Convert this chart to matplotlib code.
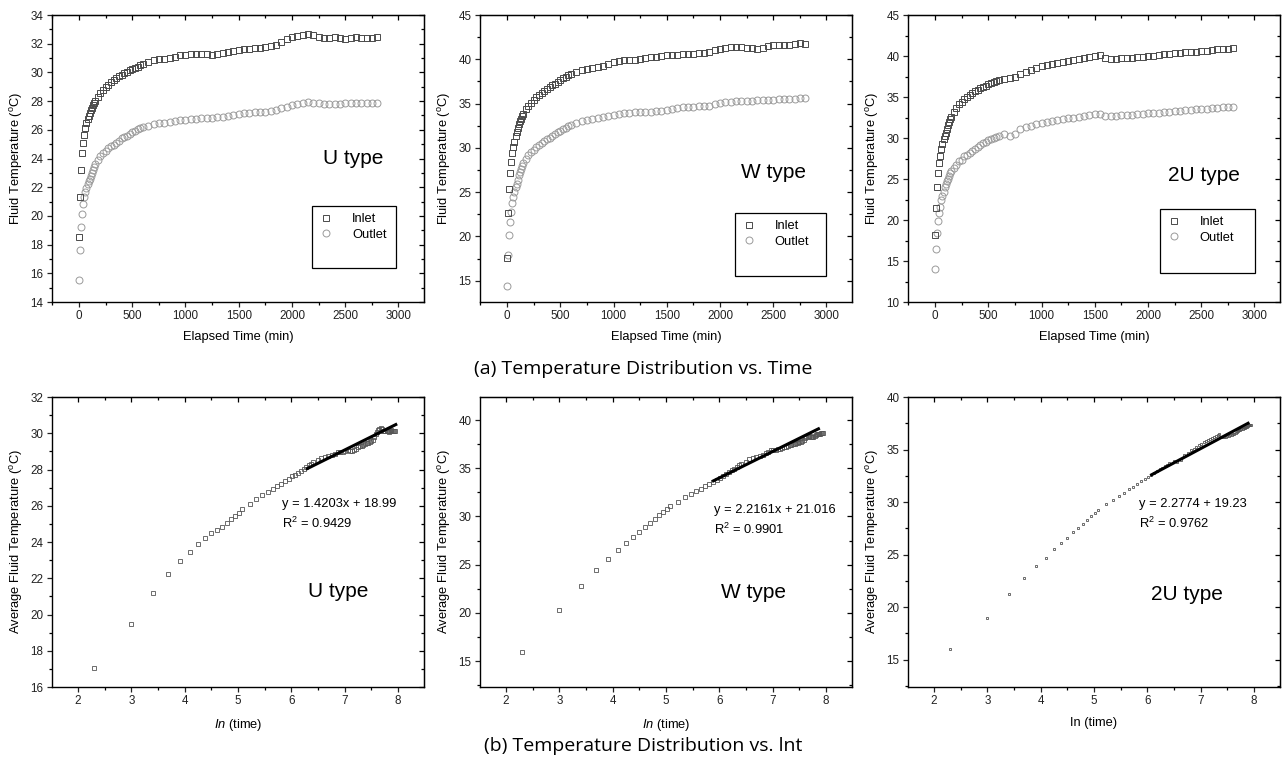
import numpy as np
import matplotlib
matplotlib.use('Agg')
import matplotlib.pyplot as plt
from matplotlib.ticker import MultipleLocator
from matplotlib.patches import Rectangle

plt.rcParams['font.family'] = ['Liberation Sans', 'DejaVu Sans']
plt.rcParams['mathtext.fontset'] = 'custom'
plt.rcParams['mathtext.rm'] = 'Liberation Sans'
plt.rcParams['mathtext.it'] = 'Liberation Sans:italic'

# elapsed time of the records (min)
time_min = [0, 10, 20, 30, 40, 50, 60, 70, 80, 90, 100, 110, 120, 130, 140, 150,
            175, 200, 225, 250, 275, 300, 325, 350, 375, 400, 425, 450, 475, 500,
            525, 550, 575, 600,
            650, 700, 750, 800, 850, 900, 950, 1000, 1050, 1100, 1150, 1200, 1250,
            1300, 1350, 1400, 1450, 1500, 1550, 1600, 1650, 1700, 1750, 1800, 1850,
            1900, 1950, 2000, 2050, 2100, 2150, 2200, 2250, 2300, 2350, 2400, 2450,
            2500, 2550, 2600, 2650, 2700, 2750, 2800]

u_inlet = [18.5, 21.3, 23.2, 24.4, 25.1, 25.65, 26.1, 26.45, 26.75, 26.95, 27.15, 27.35,
           27.55, 27.7, 27.85, 28.0,
           28.3, 28.55, 28.8, 28.95, 29.15, 29.3, 29.45, 29.6, 29.75, 29.85, 29.95, 30.05,
           30.15, 30.25, 30.3, 30.4, 30.5, 30.6,
           30.75, 30.9, 30.95, 30.95, 31.0, 31.1, 31.2, 31.2, 31.25, 31.3, 31.3, 31.25,
           31.2, 31.25, 31.35, 31.45, 31.5, 31.55, 31.6, 31.65, 31.7, 31.72, 31.78, 31.82,
           31.9, 32.1, 32.3, 32.45, 32.55, 32.62, 32.67, 32.62, 32.45, 32.4, 32.42, 32.45,
           32.38, 32.3, 32.4, 32.45, 32.42, 32.38, 32.4, 32.45]
u_outlet = [15.55, 17.65, 19.2, 20.1, 20.85, 21.3, 21.7, 21.95, 22.2, 22.4, 22.55, 22.75,
            23.0, 23.2, 23.4, 23.6,
            23.9, 24.2, 24.4, 24.55, 24.7, 24.85, 24.95, 25.1, 25.25, 25.4, 25.5, 25.6,
            25.7, 25.85, 25.95, 26.05, 26.15, 26.2,
            26.3, 26.4, 26.45, 26.5, 26.55, 26.6, 26.68, 26.7, 26.72, 26.75, 26.8, 26.8,
            26.82, 26.88, 26.92, 26.98, 27.05, 27.1, 27.15, 27.18, 27.22, 27.22, 27.25, 27.3,
            27.35, 27.5, 27.62, 27.72, 27.8, 27.85, 27.92, 27.9, 27.85, 27.82, 27.8, 27.8,
            27.82, 27.88, 27.9, 27.88, 27.85, 27.85, 27.85, 27.85]

w_inlet = [17.55, 22.6, 25.36, 27.2, 28.44, 29.38, 30.05, 30.7, 31.3, 31.8, 32.2, 32.65,
           33.0, 33.3, 33.6, 33.85,
           34.35, 34.75, 35.1, 35.4, 35.7, 35.95, 36.2, 36.45, 36.65, 36.85, 37.05, 37.25,
           37.45, 37.65, 37.85, 38.05, 38.2, 38.35,
           38.6, 38.8, 38.95, 39.05, 39.15, 39.3, 39.45, 39.65, 39.85, 39.9, 39.92, 39.95,
           40.05, 40.15, 40.25, 40.3, 40.35, 40.45, 40.5, 40.5, 40.55, 40.6, 40.65, 40.7,
           40.75, 40.85, 41.0, 41.15, 41.25, 41.35, 41.4, 41.35, 41.3, 41.25, 41.2, 41.3,
           41.45, 41.58, 41.6, 41.6, 41.62, 41.7, 41.82, 41.7]
w_outlet = [14.36, 17.9, 20.18, 21.6, 22.8, 23.75, 24.5, 25.05, 25.55, 25.95, 26.38, 26.9,
            27.3, 27.65, 28.0, 28.3,
            28.75, 29.2, 29.5, 29.8, 30.1, 30.35, 30.55, 30.75, 30.95, 31.15, 31.35, 31.6,
            31.8, 31.95, 32.1, 32.3, 32.45, 32.55,
            32.8, 33.05, 33.2, 33.3, 33.35, 33.5, 33.65, 33.75, 33.85, 33.9, 33.95, 34.0,
            34.02, 34.05, 34.1, 34.15, 34.22, 34.32, 34.4, 34.5, 34.58, 34.62, 34.65, 34.7,
            34.72, 34.78, 34.9, 35.05, 35.18, 35.22, 35.28, 35.3, 35.3, 35.32, 35.35, 35.38,
            35.4, 35.45, 35.48, 35.5, 35.52, 35.55, 35.58, 35.62]

uu_inlet = [18.13, 21.5, 24.07, 25.7, 26.9, 27.8, 28.62, 29.3, 29.84, 30.3, 30.65, 31.05,
            31.55, 31.95, 32.3, 32.6,
            33.2, 33.7, 34.1, 34.45, 34.8, 35.0, 35.25, 35.5, 35.7, 35.9, 36.1, 36.25,
            36.4, 36.55, 36.7, 36.8, 36.95, 37.05,
            37.25, 37.3, 37.5, 37.85, 38.05, 38.35, 38.55, 38.75, 38.9, 39.05, 39.2, 39.3,
            39.4, 39.5, 39.6, 39.7, 39.85, 39.95, 40.1, 39.75, 39.65, 39.65, 39.7, 39.75,
            39.8, 39.85, 39.9, 39.95, 40.0, 40.1, 40.2, 40.28, 40.35, 40.4, 40.45, 40.5,
            40.55, 40.6, 40.65, 40.72, 40.8, 40.85, 40.9, 40.93]
uu_outlet = [13.98, 16.5, 18.46, 19.88, 20.9, 21.63, 22.4, 22.9, 23.4, 24.0, 24.4, 24.75,
             25.05, 25.4, 25.7, 25.95,
             26.4, 26.75, 27.15, 27.35, 27.75, 27.9, 28.2, 28.45, 28.7, 28.95, 29.15, 29.35,
             29.5, 29.7, 29.85, 30.0, 30.15, 30.3,
             30.5, 30.3, 30.5, 31.1, 31.3, 31.5, 31.65, 31.8, 31.95, 32.1, 32.2, 32.3,
             32.4, 32.5, 32.6, 32.7, 32.8, 32.88, 32.95, 32.7, 32.65, 32.7, 32.75, 32.8,
             32.85, 32.9, 32.95, 33.0, 33.05, 33.1, 33.15, 33.2, 33.28, 33.35, 33.4, 33.45,
             33.5, 33.55, 33.6, 33.65, 33.72, 33.76, 33.8, 33.82]

# straight fit segments drawn on the ln(t) plots
u_fit_x = [6.30, 7.96]
u_fit_y = [28.05, 30.48]
w_fit_x = [5.89, 7.86]
w_fit_y = [33.7, 39.1]
uu_fit_x = [6.08, 7.89]
uu_fit_y = [32.6, 37.5]

type_names = ['U type', 'W type', '2U type']
fit_labels = ['y = 1.4203x + 18.99', 'y = 2.2161x + 21.016', 'y = 2.2774 + 19.23']
r2_labels = ['R$^2$ = 0.9429', 'R$^2$ = 0.9901', 'R$^2$ = 0.9762']
ln_labels = ['$\\it{In}$ (time)', '$\\it{In}$ (time)', 'In (time)']


def style_axes(ax, x_major, x_minor, y_major, y_minor):
    for axis, maj, mnr in [(ax.xaxis, x_major, x_minor), (ax.yaxis, y_major, y_minor)]:
        axis.set_major_locator(MultipleLocator(maj))
        axis.set_minor_locator(MultipleLocator(mnr))
    ax.tick_params(which='major', direction='out', length=3.5, width=0.9,
                   labelsize=8.4, colors='#222222', pad=2.5)
    ax.tick_params(which='minor', direction='out', length=2, width=0.9)
    for s in ax.spines.values():
        s.set_linewidth(1.0)
    top = ax.secondary_xaxis('top')
    top.xaxis.set_major_locator(MultipleLocator(x_major))
    top.xaxis.set_minor_locator(MultipleLocator(x_minor))
    top.tick_params(which='major', direction='in', length=3.5, width=0.9, labeltop=False)
    top.tick_params(which='minor', direction='in', length=2, width=0.9)
    right = ax.secondary_yaxis('right')
    right.yaxis.set_major_locator(MultipleLocator(y_major))
    right.yaxis.set_minor_locator(MultipleLocator(y_minor))
    right.tick_params(which='major', direction='in', length=3.5, width=0.9, labelright=False)
    right.tick_params(which='minor', direction='in', length=2, width=0.9)


def main():
    fig = plt.figure(figsize=(12.83, 7.66), dpi=100)
    lefts = [0.0405, 0.3741, 0.7077]
    width = 0.29

    inlets = [u_inlet, w_inlet, uu_inlet]
    outlets = [u_outlet, w_outlet, uu_outlet]
    top_ylims = [(14, 34), (12.6, 45), (10, 45)]
    top_ysteps = [(2, 1), (5, 2.5), (5, 2.5)]
    legend_boxes = [(0.70, 0.118, 0.225, 0.216), (0.685, 0.09, 0.245, 0.22),
                    (0.677, 0.10, 0.256, 0.224)]
    type_pos_top = [(0.81, 0.50), (0.79, 0.45), (0.795, 0.44)]

    t = np.array(time_min)
    for i in range(3):
        ax = fig.add_axes([lefts[i], 0.6057, width, 0.3747])
        ax.plot(t, outlets[i], 'o', ms=5.0, mfc='none', mec='#9a9a9a', mew=0.7,
                label='Outlet', zorder=2)
        ax.plot(t, inlets[i], 's', ms=4.6, mfc='none', mec='#4a4a4a', mew=0.7,
                label='Inlet', zorder=3)
        ax.set_xlim(-254, 3240)
        ax.set_ylim(*top_ylims[i])
        style_axes(ax, 500, 250, *top_ysteps[i])
        ax.set_xlabel('Elapsed Time (min)', fontsize=9.3, labelpad=6)
        ax.set_ylabel('Fluid Temperature ($^{\\mathrm{o}}$C)', fontsize=9.3, labelpad=4)
        handles, labels = ax.get_legend_handles_labels()
        bx, by, bw, bh = legend_boxes[i]
        ax.legend(handles[::-1], labels[::-1], loc='upper left',
                  bbox_to_anchor=(bx + 0.02, by + bh - 0.025), frameon=False,
                  fontsize=9.3, handlelength=1.0, handletextpad=1.5,
                  labelspacing=0.25, borderaxespad=0, borderpad=0)
        ax.add_patch(Rectangle((bx, by), bw, bh, transform=ax.transAxes, fill=False,
                               ec='black', lw=0.9, zorder=4))
        ax.text(*type_pos_top[i], type_names[i], transform=ax.transAxes, fontsize=15,
                ha='center', va='center')

    bottom_ylims = [(16, 32), (12.3, 42.4), (12.4, 40)]
    bottom_ysteps = [(2, 1), (5, 2.5), (5, 2.5)]
    fits_x = [u_fit_x, w_fit_x, uu_fit_x]
    fits_y = [u_fit_y, w_fit_y, uu_fit_y]
    marker_sizes = [2.6, 2.6, 1.6]
    eq_pos = [(0.617, 0.63), (0.628, 0.61), (0.62, 0.63)]
    type_pos_bottom = [(0.77, 0.33), (0.735, 0.325), (0.75, 0.32)]

    ln_t = np.log(t + 10)
    for i in range(3):
        ax = fig.add_axes([lefts[i], 0.1031, width, 0.3786])
        avg = (np.array(inlets[i]) + np.array(outlets[i])) / 2
        ax.plot(ln_t, avg, 's', ms=marker_sizes[i], mfc='none', mec='#555555', mew=0.6)
        ax.plot(fits_x[i], fits_y[i], '-', color='black', lw=2.2)
        ax.set_xlim(1.51, 8.49)
        ax.set_ylim(*bottom_ylims[i])
        style_axes(ax, 1, 0.5, *bottom_ysteps[i])
        ax.set_xlabel(ln_labels[i], fontsize=9.3, labelpad=7)
        ax.set_ylabel('Average Fluid Temperature ($^{\\mathrm{o}}$C)', fontsize=9.3,
                      labelpad=4)
        ex, ey = eq_pos[i]
        ax.text(ex, ey, fit_labels[i], transform=ax.transAxes, fontsize=9.3,
                ha='left', va='center')
        ax.text(ex, ey - 0.066, r2_labels[i], transform=ax.transAxes, fontsize=9.3,
                ha='left', va='center')
        ax.text(*type_pos_bottom[i], type_names[i], transform=ax.transAxes,
                fontsize=15, ha='center', va='center')

    fig.text(0.501, 0.518, '(a) Temperature Distribution vs. Time', ha='center',
             va='center', fontsize=14, family='Open Sans')
    fig.text(0.501, 0.026, '(b) Temperature Distribution vs. lnt', ha='center',
             va='center', fontsize=14, family='Open Sans')

    fig.savefig('out.png', dpi=100)


if __name__ == '__main__':
    main()
